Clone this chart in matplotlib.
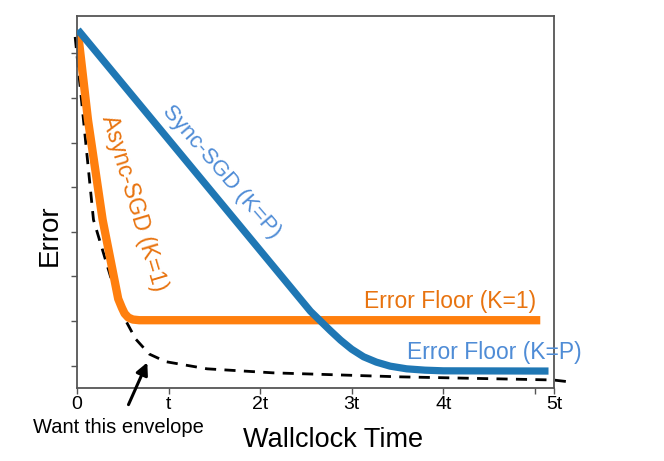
import matplotlib
matplotlib.use('Agg')
import matplotlib.pyplot as plt

plt.rcParams['font.family'] = ['Liberation Sans', 'DejaVu Sans']

# curves (x in units of t, y in tick spacings)
sync_x = [0.01, 2.55, 2.77, 2.88, 3.00, 3.13, 3.27, 3.42, 3.60, 3.80, 4.00, 5.15]
sync_y = [8.03, 1.72, 1.28, 1.07, 0.87, 0.70, 0.58, 0.49, 0.43, 0.40, 0.385, 0.38]

async_x = [0.01, 0.12, 0.28, 0.45, 0.49, 0.52, 0.56, 0.61, 0.68, 5.06]
async_y = [7.98, 6.01, 3.77, 2.00, 1.80, 1.67, 1.58, 1.535, 1.52, 1.52]

env_x = [-0.02, 0.18, 0.41, 0.53, 0.64, 0.79, 0.97, 1.42, 2.14, 3.53, 5.20, 5.41]
env_y = [7.87, 3.77, 2.20, 1.52, 1.10, 0.76, 0.59, 0.43, 0.34, 0.25, 0.18, 0.13]

xticks = [0, 1, 2, 3, 4, 5, 5.21]
xlabels = ['0', 't', '2t', '3t', '4t', '', '5t']
yticks = [0.5, 1.5, 2.5, 3.5, 4.5, 5.5, 6.5, 7.5]

blue = '#1f77b4'
orange = '#ff7f0e'
blue_txt = '#4f8cd6'
orange_txt = '#e8730f'

fig = plt.figure(figsize=(6.64, 4.61), dpi=100)
ax = fig.add_axes([77 / 664, 1 - 388 / 461, 477 / 664, 372 / 461])

ax.plot(sync_x, sync_y, color=blue, lw=5.2, solid_capstyle='butt',
        solid_joinstyle='round', zorder=3)
ax.plot(async_x, async_y, color=orange, lw=6, solid_capstyle='butt',
        solid_joinstyle='round', zorder=2)
ax.plot(env_x, env_y, color='black', lw=2, ls=(0, (4, 3)), clip_on=False, zorder=1)

ax.set_xlim(0, 5.21)
ax.set_ylim(0, 8.34)
ax.set_xticks(xticks)
ax.set_xticklabels(xlabels, fontsize=14)
ax.set_yticks(yticks)
ax.set_yticklabels([])
ax.tick_params(color='#555555', length=4, width=1, pad=2)
for s in ax.spines.values():
    s.set_color('#555555')
    s.set_linewidth(1.3)

ax.set_xlabel('Wallclock Time', fontsize=19.5)
ax.xaxis.set_label_coords(0.537, -0.105)
ax.set_ylabel('Error', fontsize=20)
ax.yaxis.set_label_coords(-0.03, 0.41)

ax.text(1.58, 4.85, 'Sync-SGD (K=P)', color=blue_txt, fontsize=16,
        rotation=-49, rotation_mode='anchor', ha='center', va='center')
ax.text(0.62, 4.15, 'Async-SGD (K=1)', color=orange_txt, fontsize=16.5,
        rotation=-73.4, rotation_mode='anchor', ha='center', va='center')
ax.text(4.08, 1.93, 'Error Floor (K=1)', color=orange_txt, fontsize=16.5,
        ha='center', va='center')
ax.text(4.56, 0.80, 'Error Floor (K=P)', color=blue_txt, fontsize=16.5,
        ha='center', va='center', clip_on=False)

ax.annotate('', xy=(0.78, 0.63), xytext=(0.55, -0.43),
            arrowprops=dict(arrowstyle='-|>', color='black', lw=2.2,
                            mutation_scale=18),
            annotation_clip=False)
ax.text(0.45, -0.89, 'Want this envelope', fontsize=14.5, ha='center',
        va='center', clip_on=False)

fig.savefig('out.png', dpi=100)
